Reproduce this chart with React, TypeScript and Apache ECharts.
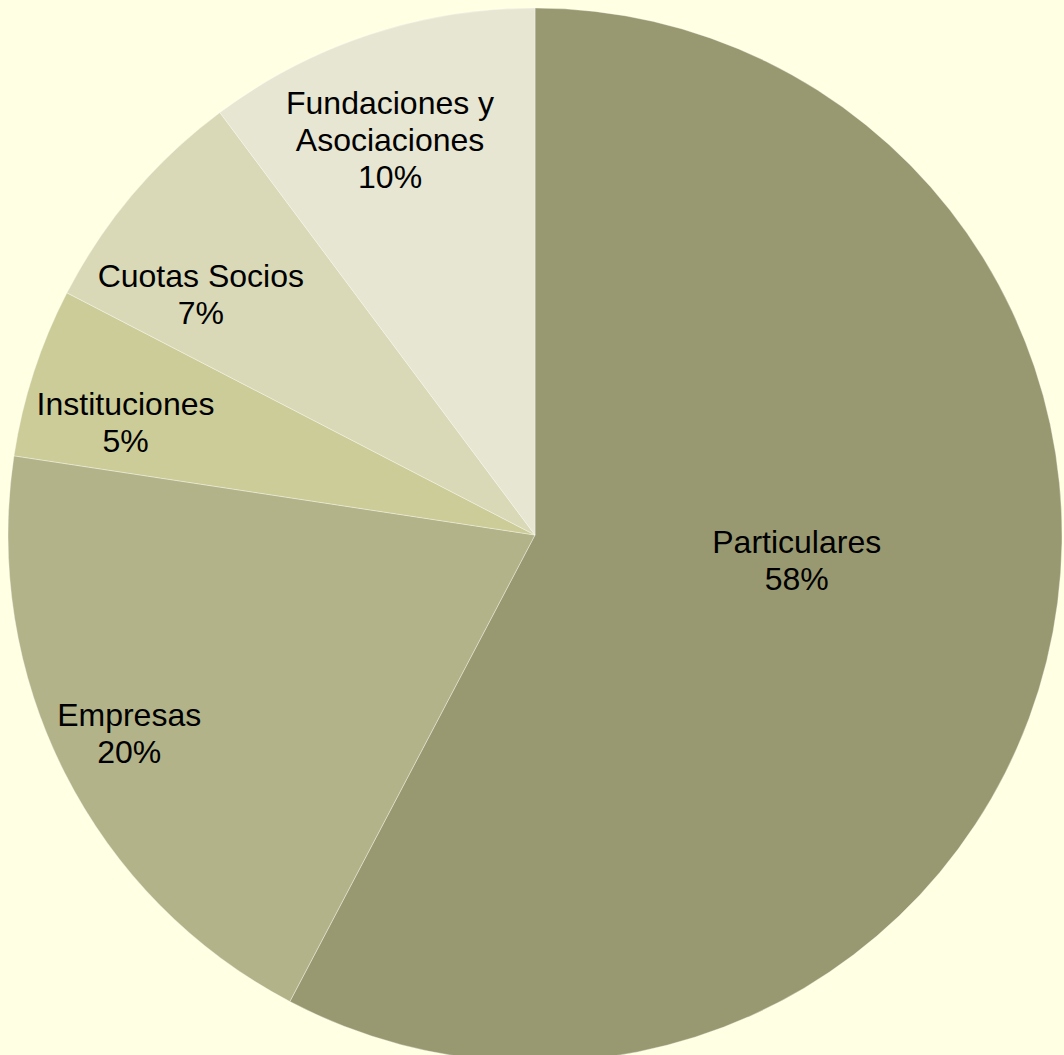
import React, { useEffect, useRef } from "react";
import * as echarts from "echarts";

const categories = ["Particulares", "Empresas", "Instituciones", "Cuotas Socios", "Fundaciones y\nAsociaciones"];
const values = [57.7, 19.7, 5.2, 7.2, 10.2];
const colors = ["#999971", "#B3B389", "#CCCC99", "#D9D9B7", "#E6E6D2"];
// label nudges relative to ECharts' "inside" label position (styling only)
const labelOffsets = [[3, -38], [-168, 78], [-156, -30], [-131, -68], [-61, -142]];

export default function App() {
  const ref = useRef<HTMLDivElement>(null);
  useEffect(() => {
    if (!ref.current) return;
    const chart = echarts.init(ref.current, null, { renderer: "svg" });
    chart.setOption({
      animation: false,
      backgroundColor: "#FFFFE3",
      series: [
        {
          type: "pie",
          center: [535, 535],
          radius: [0, 527],
          startAngle: 90,
          clockwise: true,
          avoidLabelOverlap: false,
          itemStyle: { borderColor: "rgba(255,255,255,0.35)", borderWidth: 1 },
          label: {
            show: true,
            position: "inside",
            color: "#000",
            fontFamily: "Liberation Sans, Arial, sans-serif",
            fontSize: 32,
            lineHeight: 37,
            align: "center",
            formatter: (p: any) => `${p.name}\n${Math.round(p.value)}%`,
          },
          labelLine: { show: false },
          emphasis: { disabled: true },
          data: categories.map((name, i) => ({
            name,
            value: values[i],
            itemStyle: { color: colors[i] },
            label: { offset: labelOffsets[i] },
          })),
        },
      ],
    });
    return () => chart.dispose();
  }, []);
  return (
    <div
      ref={ref}
      style={{ position: "fixed", left: 0, top: 0, width: 1064, height: 1055 }}
    />
  );
}
